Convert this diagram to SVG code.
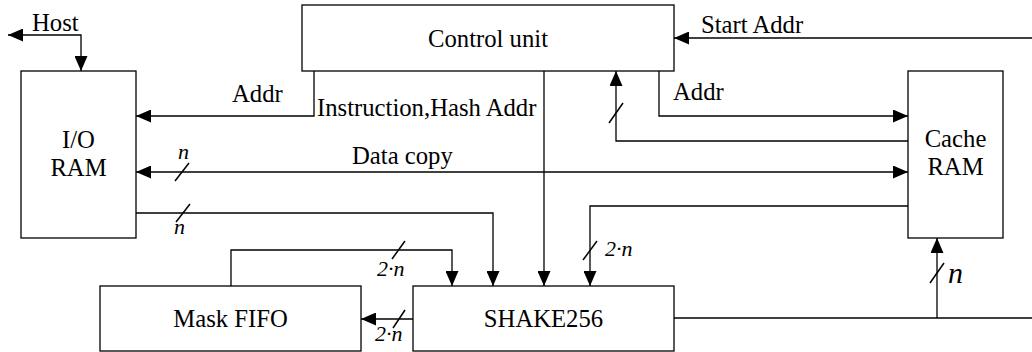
<svg xmlns="http://www.w3.org/2000/svg" width="1032" height="352" viewBox="0 0 1032 352">
<style>
.box{fill:#fff;stroke:#000;stroke-width:1.3}
.ln{fill:none;stroke:#000;stroke-width:1.3}
.sl{stroke:#000;stroke-width:1.5}
text{fill:#000;font-family:"Liberation Serif","Times New Roman",serif}
.t{font-size:24.7px}
.c{text-anchor:middle}
.i{font-style:italic;font-size:22px}
.big{font-size:30px}
</style>
<defs>
<marker id="arr" viewBox="0 0 15 13" refX="15" refY="6.5" markerWidth="15" markerHeight="13" markerUnits="userSpaceOnUse" orient="auto-start-reverse">
<path d="M0,0 L15,6.5 L0,13 z" fill="#000"/>
</marker>
</defs>
<rect width="1032" height="352" fill="#fff"/>
<g id="connectors">
<path class="ln" d="M81,71 V35 H8" marker-start="url(#arr)" marker-end="url(#arr)"/>
<path class="ln" d="M314,71 V116 H136" marker-end="url(#arr)"/>
<path class="ln" d="M544,71 V286" marker-end="url(#arr)"/>
<path class="ln" d="M908,141 H616 V71" marker-end="url(#arr)"/>
<path class="ln" d="M659,71 V116 H908" marker-end="url(#arr)"/>
<path class="ln" d="M1032,38 H674" marker-end="url(#arr)"/>
<path class="ln" d="M136,172 H908" marker-start="url(#arr)" marker-end="url(#arr)"/>
<path class="ln" d="M136,213 H493 V286" marker-end="url(#arr)"/>
<path class="ln" d="M231,286 V250 H452 V286" marker-end="url(#arr)"/>
<path class="ln" d="M413,319 H361" marker-end="url(#arr)"/>
<path class="ln" d="M908,206 H590 V286" marker-end="url(#arr)"/>
<path class="ln" d="M674,318 H1032"/>
<path class="ln" d="M937,318 V238" marker-end="url(#arr)"/>
<line class="sl" x1="609" y1="123" x2="623" y2="103"/>
<line class="sl" x1="175" y1="181" x2="189" y2="163"/>
<line class="sl" x1="176" y1="222" x2="190" y2="204"/>
<line class="sl" x1="392" y1="259" x2="405" y2="241"/>
<line class="sl" x1="393" y1="328" x2="405" y2="310"/>
<line class="sl" x1="583" y1="260" x2="597" y2="241"/>
<line class="sl" x1="930" y1="283" x2="944" y2="263"/>
<text class="t" x="32" y="31">Host</text>
<text class="t" x="232" y="102">Addr</text>
<text class="t" x="317" y="116">Instruction,Hash Addr</text>
<text class="t" x="673" y="100">Addr</text>
<text class="t" x="701" y="33">Start Addr</text>
<text class="t" x="352" y="164">Data copy</text>
<text class="i" x="178" y="159">n</text>
<text class="i" x="174" y="234">n</text>
<text class="i" x="377" y="276">2·n</text>
<text class="i" x="375" y="341">2·n</text>
<text class="i" x="605" y="256">2·n</text>
<text class="i big" x="948" y="283">n</text>
</g>
<g id="control-unit">
<rect class="box" x="302" y="5" width="372" height="66"/>
<text class="t c" x="488" y="47">Control unit</text>
</g>
<g id="io-ram">
<rect class="box" x="21" y="71" width="115" height="167"/>
<text class="t c" x="78.5" y="148">I/O</text>
<text class="t c" x="78.5" y="176">RAM</text>
</g>
<g id="cache-ram">
<rect class="box" x="908" y="71" width="95" height="167"/>
<text class="t c" x="955.5" y="147">Cache</text>
<text class="t c" x="955.5" y="175">RAM</text>
</g>
<g id="mask-fifo">
<rect class="box" x="100" y="286" width="261" height="65"/>
<text class="t c" x="230.5" y="327">Mask FIFO</text>
</g>
<g id="shake256">
<rect class="box" x="413" y="286" width="261" height="65"/>
<text class="t c" x="543.5" y="327">SHAKE256</text>
</g>
</svg>
